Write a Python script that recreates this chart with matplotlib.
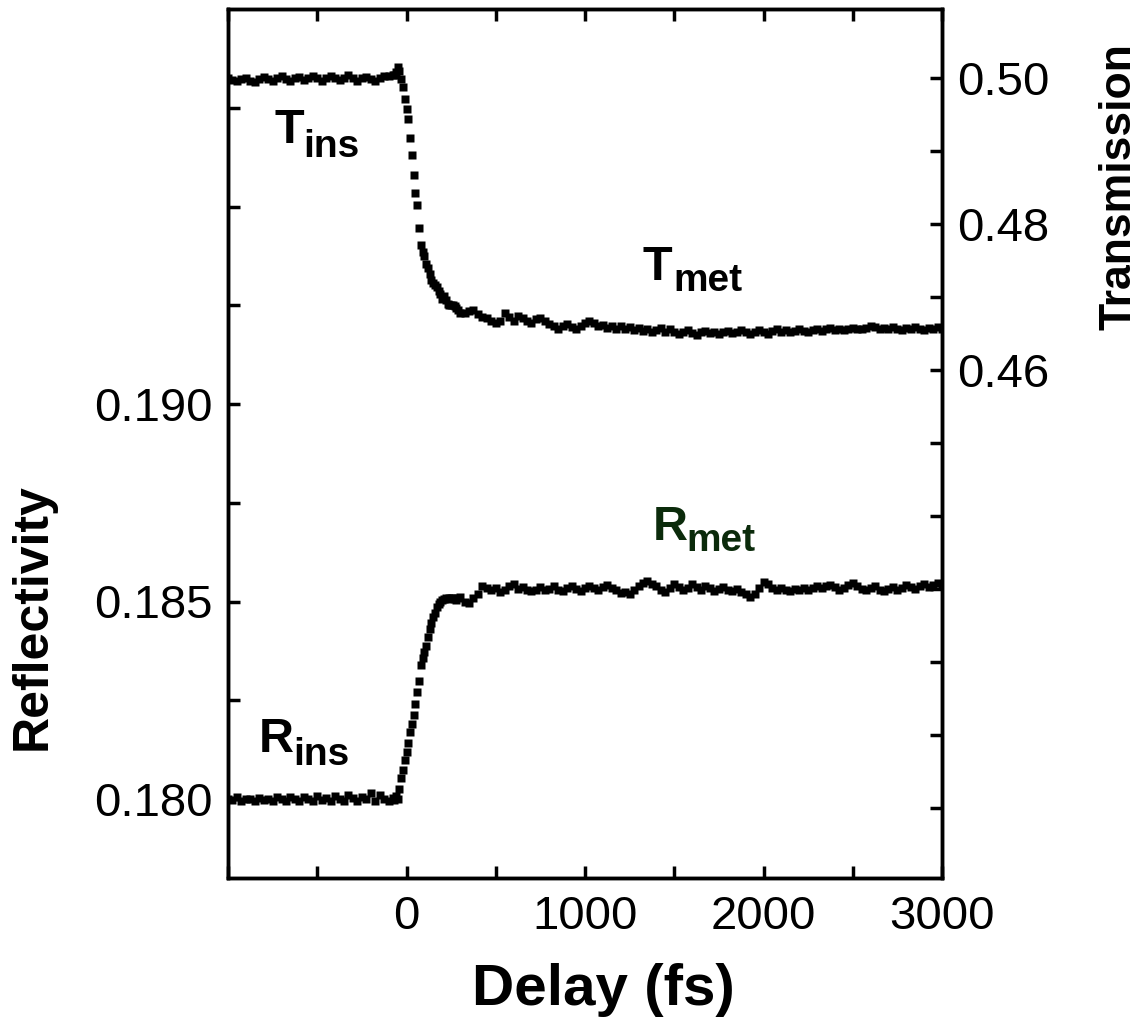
import numpy as np
import matplotlib
matplotlib.use('Agg')
import matplotlib.pyplot as plt
from matplotlib.ticker import FixedLocator

plt.rcParams['font.family'] = ['Liberation Sans', 'DejaVu Sans']

# Delay grid (fs): coarse before/after time zero, finer across the switch
delay_pre = np.arange(-1000, -70, 25)
delay_rise = np.arange(-70, 310, 10)
delay_post = np.arange(325, 3001, 25)

# Transmission (right axis)
trans_pre = [0.5001, 0.4998, 0.4996, 0.4999, 0.5001, 0.4997, 0.4995, 0.4999, 0.5002, 0.4999,
             0.4997, 0.5000, 0.5003, 0.4999, 0.4996, 0.5000, 0.5002, 0.4998, 0.5000, 0.5003,
             0.5000, 0.4997, 0.5000, 0.5003, 0.5001, 0.4998, 0.5001, 0.5004, 0.5000, 0.4997,
             0.5000, 0.5002, 0.4999, 0.4997, 0.5000, 0.5003, 0.5003, 0.5005]
trans_rise = [0.5004, 0.5009, 0.5016, 0.5010, 0.4999, 0.4988, 0.4972, 0.4958, 0.4944, 0.4918,
              0.4895, 0.4868, 0.4843, 0.4826, 0.4795, 0.4772, 0.4762, 0.4757, 0.4745, 0.4740,
              0.4732, 0.4724, 0.4720, 0.4717, 0.4714, 0.4709, 0.4705, 0.4698, 0.4701, 0.4696,
              0.4691, 0.4690, 0.4689, 0.4690, 0.4688, 0.4685, 0.4682, 0.4678]
trans_post = [0.4679, 0.4681, 0.4682, 0.4677, 0.4673, 0.4671, 0.4668, 0.4664,
              0.4668, 0.4679, 0.4673, 0.4668, 0.4674, 0.4671, 0.4668, 0.4665,
              0.4670, 0.4672, 0.4667, 0.4663, 0.4660, 0.4657, 0.4660, 0.4663, 0.4659, 0.4656,
              0.4660, 0.4665, 0.4668, 0.4664, 0.4660, 0.4662, 0.4658, 0.4661, 0.4657, 0.4660,
              0.4656, 0.4659, 0.4655, 0.4658, 0.4654, 0.4657, 0.4652, 0.4655, 0.4658, 0.4653,
              0.4656, 0.4652, 0.4649, 0.4653, 0.4655, 0.4651, 0.4648, 0.4652, 0.4654, 0.4651,
              0.4653, 0.4650, 0.4652, 0.4654, 0.4651, 0.4653, 0.4655, 0.4652, 0.4649, 0.4653,
              0.4655, 0.4652, 0.4650, 0.4654, 0.4656, 0.4653, 0.4655, 0.4652, 0.4654, 0.4657,
              0.4654, 0.4652, 0.4655, 0.4657, 0.4654, 0.4656, 0.4658, 0.4655, 0.4657, 0.4655,
              0.4656, 0.4658, 0.4657, 0.4656, 0.4658, 0.4661, 0.4659, 0.4657, 0.4658, 0.4656,
              0.4659, 0.4657, 0.4655, 0.4658, 0.4656, 0.4659, 0.4657, 0.4655, 0.4658, 0.4656,
              0.4659, 0.4657]

# Reflectivity (left axis)
refl_pre = [0.18000, 0.17997, 0.18004, 0.17995, 0.18001, 0.17999, 0.17994, 0.18003, 0.17997, 0.18001,
            0.17996, 0.18004, 0.18000, 0.17995, 0.18005, 0.17999, 0.17995, 0.18006, 0.18000, 0.17996,
            0.18007, 0.17997, 0.18002, 0.17995, 0.18008, 0.18001, 0.17996, 0.18011, 0.18003, 0.17994,
            0.18004, 0.18000, 0.18014, 0.17995, 0.18010, 0.18001, 0.17994, 0.18003]
refl_rise = [0.17998, 0.18008, 0.17999, 0.18025, 0.18052, 0.18073, 0.18098, 0.18120, 0.18143, 0.18170,
             0.18190, 0.18213, 0.18240, 0.18270, 0.18300, 0.18340, 0.18358, 0.18372, 0.18388, 0.18410,
             0.18430, 0.18446, 0.18460, 0.18470, 0.18485, 0.18494, 0.18500, 0.18505, 0.18506, 0.18508,
             0.18506, 0.18509, 0.18508, 0.18510, 0.18507, 0.18504, 0.18508, 0.18512]
refl_post = [0.18500, 0.18496, 0.18508, 0.18520, 0.18538, 0.18535, 0.18530, 0.18533,
             0.18524, 0.18528, 0.18540, 0.18544, 0.18532, 0.18536, 0.18530, 0.18526,
             0.18530, 0.18536, 0.18528, 0.18532, 0.18538, 0.18530, 0.18526, 0.18533, 0.18538, 0.18531,
             0.18527, 0.18534, 0.18540, 0.18533, 0.18529, 0.18536, 0.18542, 0.18535, 0.18528, 0.18522,
             0.18525, 0.18520, 0.18530, 0.18540, 0.18548, 0.18552, 0.18544, 0.18538, 0.18530, 0.18524,
             0.18534, 0.18545, 0.18536, 0.18528, 0.18535, 0.18544, 0.18537, 0.18530, 0.18538, 0.18533,
             0.18527, 0.18532, 0.18537, 0.18530, 0.18526, 0.18532, 0.18525, 0.18518, 0.18512, 0.18520,
             0.18535, 0.18550, 0.18544, 0.18535, 0.18528, 0.18534, 0.18530, 0.18526, 0.18532, 0.18529,
             0.18533, 0.18528, 0.18535, 0.18540, 0.18534, 0.18538, 0.18543, 0.18536, 0.18530, 0.18535,
             0.18541, 0.18546, 0.18538, 0.18532, 0.18528, 0.18534, 0.18538, 0.18530, 0.18526, 0.18532,
             0.18537, 0.18530, 0.18534, 0.18541, 0.18536, 0.18531, 0.18538, 0.18544, 0.18537, 0.18542,
             0.18547, 0.18540]

delay = np.concatenate([delay_pre, delay_rise, delay_post])
trans = np.array(trans_pre + trans_rise + trans_post)
refl = np.array(refl_pre + refl_rise + refl_post)

# Tick positions / labels
x_major = [0, 1000, 2000, 3000]
x_minor = [-1000, -500, 500, 1500, 2500]
refl_major = [0.180, 0.185, 0.190]
refl_minor = [0.1825, 0.1875, 0.1925, 0.195, 0.1975]
trans_major = [0.46, 0.48, 0.50]
trans_minor = [0.40, 0.41, 0.42, 0.43, 0.44, 0.45, 0.47, 0.49]

fig = plt.figure(figsize=(11.48, 10.28), dpi=100)
ax = fig.add_axes([228 / 1148, 1 - 878 / 1028, 714 / 1148, 869 / 1028])
ax2 = ax.twinx()

msize = 5.4
ax.plot(delay, refl, linestyle='none', marker='s', ms=msize, color='black', mec='none')
ax2.plot(delay, trans, linestyle='none', marker='s', ms=msize, color='black', mec='none')

ax.set_xlim(-1000, 3000)
ax.set_ylim(0.178, 0.200)
ax2.set_ylim(0.3904, 0.5095)

lw = 2.5
for a in (ax, ax2):
    for s in a.spines.values():
        s.set_linewidth(lw)

ax.xaxis.set_major_locator(FixedLocator(x_major))
ax.xaxis.set_minor_locator(FixedLocator(x_minor))
ax.yaxis.set_major_locator(FixedLocator(refl_major))
ax.yaxis.set_minor_locator(FixedLocator(refl_minor))
ax.set_yticklabels(['0.180', '0.185', '0.190'])
ax.set_xticklabels(['0', '1000', '2000', '3000'])
ax2.yaxis.set_major_locator(FixedLocator(trans_major))
ax2.yaxis.set_minor_locator(FixedLocator(trans_minor))
ax2.set_yticklabels(['0.46', '0.48', '0.50'])

ax.tick_params(axis='both', which='both', direction='in', length=8.5, width=lw,
               top=True, right=False, labelsize=34, pad=11)
ax.tick_params(axis='x', which='both', pad=12)
ax2.tick_params(axis='y', which='both', direction='in', length=8.5, width=lw,
                labelsize=34, pad=11)

# Axis titles
fig.text(33 / 1148, 1 - 617 / 1028, 'Reflectivity', rotation=90, ha='center', va='center',
         fontsize=36, fontweight='bold')
fig.text(1119 / 1148, 1 - 187 / 1028, 'Transmission', rotation=90, ha='center', va='center',
         fontsize=32, fontweight='bold')
fig.text(603 / 1148, 1 - 990 / 1028, 'Delay (fs)', ha='center', va='center',
         fontsize=42, fontweight='bold')

# Curve labels (main letter + lowered subscript)
def label(x0, y0, x1, y1, main, sub, color='black'):
    ax.text(x0, y0, main, transform=ax.transAxes, ha='left', va='baseline',
            fontsize=35, fontweight='bold', color=color)
    ax.text(x1, y1, sub, transform=ax.transAxes, ha='left', va='baseline',
            fontsize=28, fontweight='bold', color=color)

label(0.0658, 0.8458, 0.1050, 0.8297, 'T', 'ins')
label(0.5812, 0.6881, 0.6232, 0.6755, 'T', 'met')
label(0.0434, 0.1450, 0.0910, 0.1300, 'R', 'ins')
label(0.5952, 0.3889, 0.6415, 0.3763, 'R', 'met', color='#0b2b0b')

fig.savefig('out.png', dpi=100)
plt.close()
